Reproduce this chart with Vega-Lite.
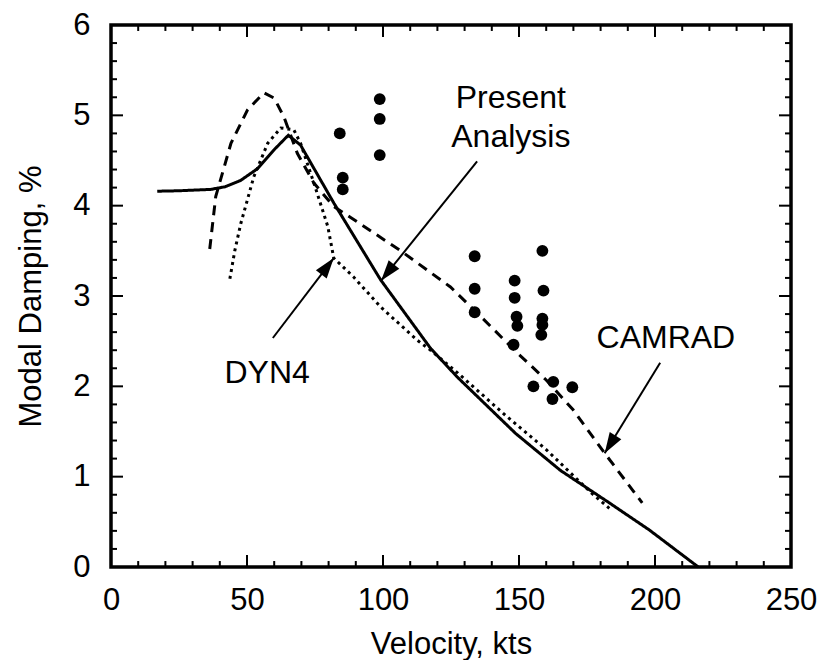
{
  "$schema": "https://vega.github.io/schema/vega-lite/v6.json",
  "width": 680,
  "height": 542,
  "autosize": {"type": "none"},
  "padding": {"left": 111, "top": 25, "right": 31, "bottom": 93},
  "background": "white",
  "config": {
    "view": {"stroke": "black", "strokeWidth": 3.5},
    "font": "Liberation Sans",
    "axis": {"domain": false, "ticks": false, "tickSize": 0, "grid": false, "labelColor": "black", "titleColor": "black", "labelFont": "Liberation Sans", "titleFont": "Liberation Sans", "labelFontSize": 31, "titleFontSize": 31, "titleFontWeight": "normal", "labelFlush": false, "labelOverlap": false}
  },
  "datasets": {
    "curves": [
      {"model": "Present Analysis", "v": 17, "d": 4.16},
      {"model": "Present Analysis", "v": 25, "d": 4.165},
      {"model": "Present Analysis", "v": 36.7, "d": 4.18},
      {"model": "Present Analysis", "v": 42, "d": 4.21},
      {"model": "Present Analysis", "v": 47.7, "d": 4.28},
      {"model": "Present Analysis", "v": 53.9, "d": 4.41},
      {"model": "Present Analysis", "v": 60, "d": 4.62},
      {"model": "Present Analysis", "v": 65.2, "d": 4.78},
      {"model": "Present Analysis", "v": 69.7, "d": 4.67},
      {"model": "Present Analysis", "v": 81.9, "d": 4.03},
      {"model": "Present Analysis", "v": 99.1, "d": 3.18},
      {"model": "Present Analysis", "v": 117.5, "d": 2.42},
      {"model": "Present Analysis", "v": 127.4, "d": 2.1},
      {"model": "Present Analysis", "v": 148.7, "d": 1.48},
      {"model": "Present Analysis", "v": 165.2, "d": 1.07},
      {"model": "Present Analysis", "v": 183.2, "d": 0.71},
      {"model": "Present Analysis", "v": 197.9, "d": 0.41},
      {"model": "Present Analysis", "v": 215.9, "d": 0},
      {"model": "CAMRAD", "v": 36.3, "d": 3.52},
      {"model": "CAMRAD", "v": 38.5, "d": 4.1},
      {"model": "CAMRAD", "v": 44.1, "d": 4.69},
      {"model": "CAMRAD", "v": 50.2, "d": 5.06},
      {"model": "CAMRAD", "v": 56.2, "d": 5.25},
      {"model": "CAMRAD", "v": 60, "d": 5.19},
      {"model": "CAMRAD", "v": 63.6, "d": 4.98},
      {"model": "CAMRAD", "v": 68.5, "d": 4.58},
      {"model": "CAMRAD", "v": 74.6, "d": 4.25},
      {"model": "CAMRAD", "v": 81.9, "d": 3.99},
      {"model": "CAMRAD", "v": 88.1, "d": 3.87},
      {"model": "CAMRAD", "v": 106.5, "d": 3.5},
      {"model": "CAMRAD", "v": 124.8, "d": 3.1},
      {"model": "CAMRAD", "v": 134.7, "d": 2.81},
      {"model": "CAMRAD", "v": 149, "d": 2.38},
      {"model": "CAMRAD", "v": 160, "d": 2.07},
      {"model": "CAMRAD", "v": 169.9, "d": 1.74},
      {"model": "CAMRAD", "v": 181.5, "d": 1.26},
      {"model": "CAMRAD", "v": 195.3, "d": 0.71},
      {"model": "DYN4", "v": 43.7, "d": 3.19},
      {"model": "DYN4", "v": 45.5, "d": 3.5},
      {"model": "DYN4", "v": 47.7, "d": 3.8},
      {"model": "DYN4", "v": 52.5, "d": 4.32},
      {"model": "DYN4", "v": 57.6, "d": 4.69},
      {"model": "DYN4", "v": 62.4, "d": 4.86},
      {"model": "DYN4", "v": 67.2, "d": 4.84},
      {"model": "DYN4", "v": 69.7, "d": 4.69},
      {"model": "DYN4", "v": 74.6, "d": 4.25},
      {"model": "DYN4", "v": 79.7, "d": 3.77},
      {"model": "DYN4", "v": 81.9, "d": 3.42},
      {"model": "DYN4", "v": 89.2, "d": 3.21},
      {"model": "DYN4", "v": 99.1, "d": 2.88},
      {"model": "DYN4", "v": 112.6, "d": 2.51},
      {"model": "DYN4", "v": 117.5, "d": 2.4},
      {"model": "DYN4", "v": 127.4, "d": 2.15},
      {"model": "DYN4", "v": 145, "d": 1.68},
      {"model": "DYN4", "v": 160, "d": 1.3},
      {"model": "DYN4", "v": 176.6, "d": 0.82},
      {"model": "DYN4", "v": 183.2, "d": 0.65}
    ],
    "test": [
      {"v": 84.1, "d": 4.8}, {"v": 85.2, "d": 4.31}, {"v": 85.2, "d": 4.18},
      {"v": 98.8, "d": 5.18}, {"v": 98.8, "d": 4.96}, {"v": 98.8, "d": 4.56},
      {"v": 133.7, "d": 3.44}, {"v": 133.7, "d": 3.08}, {"v": 133.7, "d": 2.82},
      {"v": 148.4, "d": 3.17}, {"v": 148.4, "d": 2.98}, {"v": 149.1, "d": 2.77}, {"v": 149.4, "d": 2.67}, {"v": 148, "d": 2.46},
      {"v": 158.6, "d": 3.5}, {"v": 159, "d": 3.06}, {"v": 158.6, "d": 2.75}, {"v": 158.6, "d": 2.68}, {"v": 158.2, "d": 2.57},
      {"v": 155.3, "d": 2.0}, {"v": 162.6, "d": 2.05}, {"v": 162.3, "d": 1.86}, {"v": 169.6, "d": 1.99}
    ],
    "labels": [
      {"text": "Present", "v": 147, "d": 5.08},
      {"text": "Analysis", "v": 147, "d": 4.65},
      {"text": "DYN4", "v": 57.4, "d": 2.04},
      {"text": "CAMRAD", "v": 204, "d": 2.42}
    ],
    "arrows": [
      {"name": "Present", "v": 134.6, "d": 4.49, "v2": 99.3, "d2": 3.17},
      {"name": "DYN4", "v": 59.5, "d": 2.535, "v2": 81.9, "d2": 3.42},
      {"name": "CAMRAD", "v": 201.9, "d": 2.26, "v2": 181.5, "d2": 1.26}
    ],
    "xmajor": [{"v": 50}, {"v": 100}, {"v": 150}, {"v": 200}],
    "xminor": [{"v": 10}, {"v": 20}, {"v": 30}, {"v": 40}, {"v": 60}, {"v": 70}, {"v": 80}, {"v": 90}, {"v": 110}, {"v": 120}, {"v": 130}, {"v": 140}, {"v": 160}, {"v": 170}, {"v": 180}, {"v": 190}, {"v": 210}, {"v": 220}, {"v": 230}, {"v": 240}],
    "ymajor": [{"d": 1}, {"d": 2}, {"d": 3}, {"d": 4}, {"d": 5}],
    "yminor": [{"d": 0.2}, {"d": 0.4}, {"d": 0.6}, {"d": 0.8}, {"d": 1.2}, {"d": 1.4}, {"d": 1.6}, {"d": 1.8}, {"d": 2.2}, {"d": 2.4}, {"d": 2.6}, {"d": 2.8}, {"d": 3.2}, {"d": 3.4}, {"d": 3.6}, {"d": 3.8}, {"d": 4.2}, {"d": 4.4}, {"d": 4.6}, {"d": 4.8}, {"d": 5.2}, {"d": 5.4}, {"d": 5.6}, {"d": 5.8}]
  },
  "resolve": {"axis": {"x": "independent", "y": "independent"}},
  "layer": [
    {
      "data": {"name": "curves"},
      "mark": {"type": "line", "color": "black", "strokeWidth": 3, "strokeCap": "butt"},
      "encoding": {
        "x": {"field": "v", "type": "quantitative", "scale": {"domain": [0, 250], "nice": false, "zero": false},
          "axis": {"orient": "bottom", "values": [0, 50, 100, 150, 200, 250], "format": "d",
            "labelPadding": 18, "title": "Velocity, kts", "titlePadding": 14}},
        "y": {"field": "d", "type": "quantitative", "scale": {"domain": [0, 6], "nice": false, "zero": false},
          "axis": {"orient": "left", "values": [0, 1, 2, 3, 4, 5, 6], "format": "d",
            "labelPadding": 21, "title": "Modal Damping, %", "titlePadding": 25}},
        "strokeDash": {"field": "model", "type": "nominal", "scale": {"domain": ["Present Analysis", "CAMRAD", "DYN4"], "range": [[1, 0], [10, 7], [3, 4]]}, "legend": null}
      }
    },
    {
      "data": {"name": "xmajor"},
      "mark": {"type": "rule", "color": "black", "strokeWidth": 2},
      "encoding": {"x": {"field": "v", "type": "quantitative", "axis": null}, "y": {"datum": 0, "type": "quantitative", "axis": null}, "y2": {"datum": 0.133}}
    },
    {
      "data": {"name": "xmajor"},
      "mark": {"type": "rule", "color": "black", "strokeWidth": 2},
      "encoding": {"x": {"field": "v", "type": "quantitative", "axis": null}, "y": {"datum": 6, "type": "quantitative", "axis": null}, "y2": {"datum": 5.867}}
    },
    {
      "data": {"name": "xminor"},
      "mark": {"type": "rule", "color": "black", "strokeWidth": 2},
      "encoding": {"x": {"field": "v", "type": "quantitative", "axis": null}, "y": {"datum": 0, "type": "quantitative", "axis": null}, "y2": {"datum": 0.066}}
    },
    {
      "data": {"name": "xminor"},
      "mark": {"type": "rule", "color": "black", "strokeWidth": 2},
      "encoding": {"x": {"field": "v", "type": "quantitative", "axis": null}, "y": {"datum": 6, "type": "quantitative", "axis": null}, "y2": {"datum": 5.934}}
    },
    {
      "data": {"name": "ymajor"},
      "mark": {"type": "rule", "color": "black", "strokeWidth": 2},
      "encoding": {"y": {"field": "d", "type": "quantitative", "axis": null}, "x": {"datum": 0, "type": "quantitative", "axis": null}, "x2": {"datum": 4.41}}
    },
    {
      "data": {"name": "ymajor"},
      "mark": {"type": "rule", "color": "black", "strokeWidth": 2},
      "encoding": {"y": {"field": "d", "type": "quantitative", "axis": null}, "x": {"datum": 250, "type": "quantitative", "axis": null}, "x2": {"datum": 245.59}}
    },
    {
      "data": {"name": "yminor"},
      "mark": {"type": "rule", "color": "black", "strokeWidth": 2},
      "encoding": {"y": {"field": "d", "type": "quantitative", "axis": null}, "x": {"datum": 0, "type": "quantitative", "axis": null}, "x2": {"datum": 2.2}}
    },
    {
      "data": {"name": "yminor"},
      "mark": {"type": "rule", "color": "black", "strokeWidth": 2},
      "encoding": {"y": {"field": "d", "type": "quantitative", "axis": null}, "x": {"datum": 250, "type": "quantitative", "axis": null}, "x2": {"datum": 247.8}}
    },
    {
      "data": {"name": "test"},
      "mark": {"type": "point", "filled": true, "shape": "circle", "color": "black", "opacity": 1, "size": 140},
      "encoding": {
        "x": {"field": "v", "type": "quantitative", "axis": null},
        "y": {"field": "d", "type": "quantitative", "axis": null}
      }
    },
    {
      "data": {"name": "labels"},
      "mark": {"type": "text", "font": "Liberation Sans", "fontSize": 32, "color": "black", "align": "center", "baseline": "alphabetic"},
      "encoding": {
        "x": {"field": "v", "type": "quantitative", "axis": null},
        "y": {"field": "d", "type": "quantitative", "axis": null},
        "text": {"field": "text"}
      }
    },
    {
      "data": {"name": "arrows"},
      "mark": {"type": "rule", "color": "black", "strokeWidth": 2},
      "encoding": {
        "x": {"field": "v", "type": "quantitative", "axis": null},
        "y": {"field": "d", "type": "quantitative", "axis": null},
        "x2": {"field": "v2"},
        "y2": {"field": "d2"}
      }
    },
    {
      "data": {"name": "arrows"},
      "transform": [{"filter": "datum.name === 'Present'"}],
      "mark": {"type": "point", "shape": "M0,0 L0.33,1 L-0.33,1 Z", "filled": true, "color": "black", "opacity": 1, "size": 1700, "angle": 218.7},
      "encoding": {
        "x": {"field": "v2", "type": "quantitative", "axis": null},
        "y": {"field": "d2", "type": "quantitative", "axis": null}
      }
    },
    {
      "data": {"name": "arrows"},
      "transform": [{"filter": "datum.name === 'DYN4'"}],
      "mark": {"type": "point", "shape": "M0,0 L0.33,1 L-0.33,1 Z", "filled": true, "color": "black", "opacity": 1, "size": 1700, "angle": 37.3},
      "encoding": {
        "x": {"field": "v2", "type": "quantitative", "axis": null},
        "y": {"field": "d2", "type": "quantitative", "axis": null}
      }
    },
    {
      "data": {"name": "arrows"},
      "transform": [{"filter": "datum.name === 'CAMRAD'"}],
      "mark": {"type": "point", "shape": "M0,0 L0.33,1 L-0.33,1 Z", "filled": true, "color": "black", "opacity": 1, "size": 1700, "angle": 211.7},
      "encoding": {
        "x": {"field": "v2", "type": "quantitative", "axis": null},
        "y": {"field": "d2", "type": "quantitative", "axis": null}
      }
    }
  ]
}
